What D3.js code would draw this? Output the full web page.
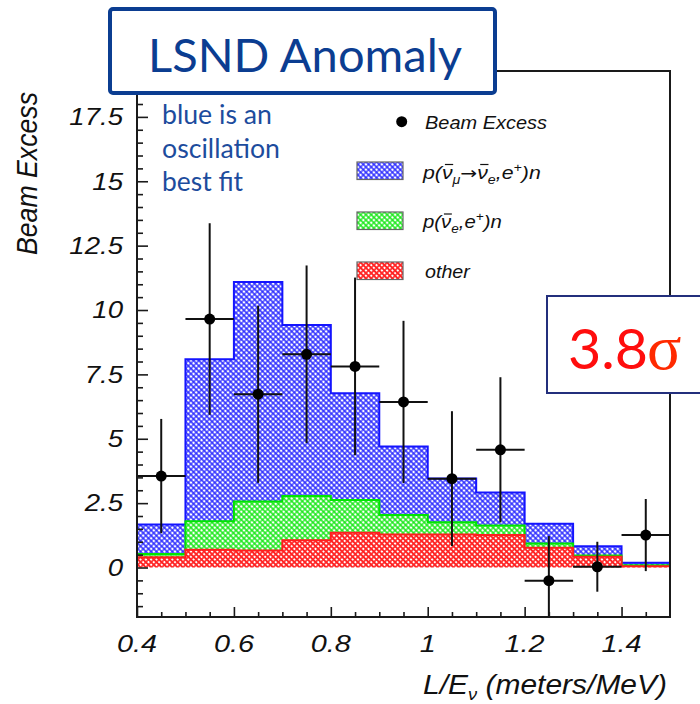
<!DOCTYPE html>
<html>
<head>
<meta charset="utf-8">
<script src="https://cdn.jsdelivr.net/npm/d3@7"></script>
<style>
  body { margin: 0; background: #fff; }
  svg { display: block; }
</style>
</head>
<body>
<svg id="chart" width="700" height="704"></svg>
<script>
// ---- data ----
const binEdges = [0.4, 0.5, 0.6, 0.7, 0.8, 0.9, 1.0, 1.1, 1.2, 1.3, 1.4, 1.5];
// stacked expectation per bin
const otherBg  = [0.40, 0.69, 0.66, 1.06, 1.35, 1.28, 1.28, 1.26, 0.77, 0.42, 0.05];
const nueBg    = [0.12, 1.11, 1.90, 1.72, 1.27, 0.76, 0.48, 0.37, 0.16, 0.05, 0.04];
const oscFit   = [1.15, 6.29, 8.53, 6.64, 4.15, 2.66, 1.70, 1.28, 0.77, 0.36, 0.09];
// measured beam excess
const excessX   = [0.45, 0.55, 0.65, 0.75, 0.85, 0.95, 1.05, 1.15, 1.25, 1.35, 1.45];
const excessY   = [3.55, 9.65, 6.73, 8.28, 7.81, 6.43, 3.45, 4.57, -0.51, 0.03, 1.26];
const excessErr = [2.22, 3.72, 3.44, 3.45, 3.45, 3.15, 2.62, 2.82, 1.73, 0.97, 1.40];
// axes
const xTickValues = [0.4, 0.6, 0.8, 1.0, 1.2, 1.4];
const xTickLabels = ["0.4", "0.6", "0.8", "1", "1.2", "1.4"];
const yTickValues = [0, 2.5, 5, 7.5, 10, 12.5, 15, 17.5];
const yTickLabels = ["0", "2.5", "5", "7.5", "10", "12.5", "15", "17.5"];
const seriesKeys = ["other", "nue", "osc"];

const svg = d3.select("#chart");
const M = { left: 137, right: 670, top: 71, bottom: 617 };
const x = d3.scaleLinear().domain([0.4, 1.5]).range([M.left, M.right]);
const y = d3.scaleLinear().domain([-1.922, 19.282]).range([M.bottom, M.top]);

const defs = svg.append("defs");
function hatch(id, color, size, sw) {
  const p = defs.append("pattern")
    .attr("id", id)
    .attr("patternUnits", "userSpaceOnUse")
    .attr("width", size).attr("height", size)
    .attr("patternTransform", "rotate(45)");
  p.append("rect").attr("width", size).attr("height", size).attr("fill", "#fff");
  p.append("path")
    .attr("d", `M0,${size / 2}H${size}M${size / 2},0V${size}`)
    .attr("stroke", color).attr("stroke-width", sw).attr("fill", "none");
}
hatch("hatch-osc", "#2424ff", 3.75, 1.2);
hatch("hatch-nue", "#10e610", 3.75, 1.2);
hatch("hatch-other", "#ff2424", 3.75, 1.65);

defs.append("clipPath").attr("id", "plot-clip")
  .append("rect")
  .attr("x", M.left).attr("y", M.top)
  .attr("width", M.right - M.left).attr("height", M.bottom - M.top);

const style = {
  osc:   { fill: "url(#hatch-osc)",   line: "#1414ff" },
  nue:   { fill: "url(#hatch-nue)",   line: "#00e600" },
  other: { fill: "url(#hatch-other)", line: "#ff1e1e" }
};

// ---- stacked histogram ----
const rows = binEdges.slice(0, -1).map((x0, i) => ({
  x0, x1: binEdges[i + 1], other: otherBg[i], nue: nueBg[i], osc: oscFit[i]
}));
const stacked = d3.stack().keys(seriesKeys)(rows);

const area = d3.area()
  .curve(d3.curveStepAfter)
  .x(d => x(d.x)).y0(d => y(d.y0)).y1(d => y(d.y1));
const line = d3.line()
  .curve(d3.curveStepAfter)
  .x(d => x(d.x)).y(d => y(d.y1));

const hist = svg.append("g").attr("clip-path", "url(#plot-clip)");
// top layer first so each lower layer's outline stays visible
stacked.slice().reverse().forEach(layer => {
  const pts = layer.map(d => ({ x: d.data.x0, y0: d[0], y1: d[1] }));
  const last = layer[layer.length - 1];
  pts.push({ x: last.data.x1, y0: last[0], y1: last[1] });
  hist.append("path").attr("d", area(pts)).attr("fill", style[layer.key].fill);
  hist.append("path").attr("d", line(pts))
    .attr("fill", "none").attr("stroke", style[layer.key].line).attr("stroke-width", 2);
});

// ---- data points with error bars ----
const pts = excessX.map((v, i) => ({ x: v, y: excessY[i], e: excessErr[i] }));
const pg = svg.append("g").attr("clip-path", "url(#plot-clip)");
pg.selectAll("line.ev").data(pts).join("line")
  .attr("x1", d => x(d.x)).attr("x2", d => x(d.x))
  .attr("y1", d => y(d.y - d.e)).attr("y2", d => y(d.y + d.e))
  .attr("stroke", "#111").attr("stroke-width", 2);
pg.selectAll("line.eh").data(pts).join("line")
  .attr("x1", d => x(d.x - 0.05)).attr("x2", d => x(d.x + 0.05))
  .attr("y1", d => y(d.y)).attr("y2", d => y(d.y))
  .attr("stroke", "#111").attr("stroke-width", 2);
pg.selectAll("circle").data(pts).join("circle")
  .attr("cx", d => x(d.x)).attr("cy", d => y(d.y)).attr("r", 5.5).attr("fill", "#000");

// ---- frame and ticks ----
svg.append("rect")
  .attr("x", M.left).attr("y", M.top)
  .attr("width", M.right - M.left).attr("height", M.bottom - M.top)
  .attr("fill", "none").attr("stroke", "#1a1a1a").attr("stroke-width", 2);

function ticks(axis, values, size) {
  const g = svg.append("g");
  if (axis === "left") {
    g.attr("transform", `translate(${M.left},0)`)
      .call(d3.axisLeft(y).tickValues(values).tickSize(-size).tickFormat(""));
  } else {
    g.attr("transform", `translate(0,${M.bottom})`)
      .call(d3.axisBottom(x).tickValues(values).tickSize(-size).tickFormat(""));
  }
  g.select(".domain").remove();
  g.selectAll(".tick line").attr("stroke", "#1a1a1a").attr("stroke-width", 1.6);
}
ticks("left", d3.range(-1.5, 19.01, 0.5).filter(v => Math.abs(v / 2.5 - Math.round(v / 2.5)) > 1e-6), 6);
ticks("left", d3.range(0, 17.51, 2.5), 11);
ticks("bottom", d3.range(0.45, 1.49, 0.05).filter(v => Math.abs(v / 0.2 - Math.round(v / 0.2)) > 1e-6), 5);
ticks("bottom", xTickValues, 10);

const SANS = "'Liberation Sans', Arial, Helvetica, sans-serif";
function stretch(sel, k, ax) {
  sel.attr("transform", `translate(${ax},0) scale(${k},1) translate(${-ax},0)`);
}
function fitWidth(sel, w, ax) {
  const bw = sel.node().getBBox().width;
  stretch(sel, w / bw, ax);
}

// y tick labels
yTickValues.forEach((v, i) => {
  const t = svg.append("text")
    .attr("x", 123).attr("y", y(v) + 8.3)
    .attr("text-anchor", "end")
    .attr("font-family", SANS).attr("font-style", "italic").attr("font-size", 23)
    .attr("fill", "#111").text(yTickLabels[i]);
  stretch(t, 1.2, 123);
});
// x tick labels
xTickValues.forEach((v, i) => {
  const t = svg.append("text")
    .attr("x", x(v)).attr("y", 652)
    .attr("text-anchor", "middle")
    .attr("font-family", SANS).attr("font-style", "italic").attr("font-size", 24)
    .attr("fill", "#111").text(xTickLabels[i]);
  stretch(t, 1.2, x(v));
});

// axis titles
const xt = svg.append("text")
  .attr("x", 667).attr("y", 694).attr("text-anchor", "end")
  .attr("font-family", SANS).attr("font-style", "italic").attr("font-size", 28).attr("fill", "#111");
xt.append("tspan").text("L/E");
xt.append("tspan").attr("font-size", 17).attr("dy", 6).text("ν");
xt.append("tspan").attr("dy", -6).text(" (meters/MeV)");
fitWidth(xt, 244, 667);

svg.append("text")
  .attr("transform", "translate(37,255) rotate(-90) scale(1,1.15)")
  .attr("font-family", SANS).attr("font-style", "italic").attr("font-size", 26)
  .attr("textLength", 163).attr("lengthAdjust", "spacingAndGlyphs")
  .attr("fill", "#111").text("Beam Excess");

// ---- legend ----
svg.append("circle").attr("cx", 401.7).attr("cy", 121.7).attr("r", 5.5).attr("fill", "#000");
const l0 = svg.append("text").attr("x", 425).attr("y", 129)
  .attr("font-family", SANS).attr("font-style", "italic").attr("font-size", 18)
  .attr("fill", "#111").text("Beam Excess");
fitWidth(l0, 122, 425);

const legendRows = [
  { key: "osc", y: 162 },
  { key: "nue", y: 212 },
  { key: "other", y: 262 }
];
legendRows.forEach(r => {
  svg.append("rect").attr("x", 357).attr("y", r.y).attr("width", 46).attr("height", 17.5)
    .attr("fill", style[r.key].fill).attr("stroke", "#666").attr("stroke-width", 1.2);
});

// legend label built from pieces; antineutrinos get a bar drawn over the glyph
function legendLabel(base, pieces, width) {
  const g = svg.append("g");
  const t = g.append("text").attr("x", 423).attr("y", base)
    .attr("font-family", SANS).attr("font-style", "italic").attr("font-size", 18).attr("fill", "#111");
  const bars = [];
  pieces.forEach(p => {
    const s = t.append("tspan").text(p.t);
    if (p.dy) s.attr("dy", p.dy);
    if (p.size) s.attr("font-size", p.size);
    if (p.font) s.attr("font-family", p.font).attr("font-style", "normal");
    if (p.bar) bars.push(s);
  });
  bars.forEach(s => {
    const ext = s.node().getExtentOfChar(0);
    g.append("line")
      .attr("x1", ext.x + 2.5).attr("x2", ext.x + ext.width + 0.5)
      .attr("y1", base - 14.5).attr("y2", base - 14.5)
      .attr("stroke", "#111").attr("stroke-width", 1.2);
  });
  const bw = t.node().getBBox().width;
  stretch(g, width / bw, 423);
}
legendLabel(179, [
  { t: "p(" }, { t: "ν", bar: true },
  { t: "μ", size: 12, dy: 5 },
  { t: "→", dy: -5, font: "'DejaVu Sans', sans-serif", size: 17 },
  { t: "ν", bar: true },
  { t: "e", size: 12, dy: 5 }, { t: ",e", dy: -5 },
  { t: "+", size: 12, dy: -7 }, { t: ")n", dy: 7 }
], 119);
legendLabel(228.5, [
  { t: "p(" }, { t: "ν", bar: true },
  { t: "e", size: 12, dy: 5 }, { t: ",e", dy: -5 },
  { t: "+", size: 12, dy: -7 }, { t: ")n", dy: 7 }
], 80);

const l3 = svg.append("text").attr("x", 425).attr("y", 278)
  .attr("font-family", SANS).attr("font-style", "italic").attr("font-size", 18)
  .attr("fill", "#111").text("other");
fitWidth(l3, 46, 425);

// ---- annotations ----
const NOTE = "Lato, 'Open Sans', sans-serif";
[["blue is an", 124, 110], ["oscillation", 157.5, 118], ["best fit", 191, 81]].forEach(([s, by, w]) => {
  svg.append("text").attr("x", 162).attr("y", by)
    .attr("font-family", NOTE).attr("font-size", 27).attr("fill", "#1d4c9d")
    .attr("textLength", w).attr("lengthAdjust", "spacingAndGlyphs").text(s);
});

// title box
svg.append("rect").attr("x", 110).attr("y", 9).attr("width", 385).attr("height", 84)
  .attr("rx", 3).attr("fill", "#fff").attr("stroke", "#0b3d91").attr("stroke-width", 4);
svg.append("text").attr("x", 148).attr("y", 72)
  .attr("font-family", NOTE).attr("font-size", 46).attr("fill", "#0b3d91")
  .attr("textLength", 314).attr("lengthAdjust", "spacingAndGlyphs").text("LSND Anomaly");

// significance box
svg.append("rect").attr("x", 547).attr("y", 296).attr("width", 170).attr("height", 97)
  .attr("fill", "#fff").attr("stroke", "#232f7c").attr("stroke-width", 2);
svg.append("text").attr("x", 568).attr("y", 369)
  .attr("font-family", NOTE).attr("font-size", 56).attr("fill", "#ff0d0d")
  .attr("textLength", 80).attr("lengthAdjust", "spacingAndGlyphs").text("3.8");
svg.append("text").attr("x", 647).attr("y", 369)
  .attr("font-family", "'Liberation Serif', 'Times New Roman', serif").attr("font-size", 64)
  .attr("fill", "#ff2a00").text("σ");
</script>
</body>
</html>
